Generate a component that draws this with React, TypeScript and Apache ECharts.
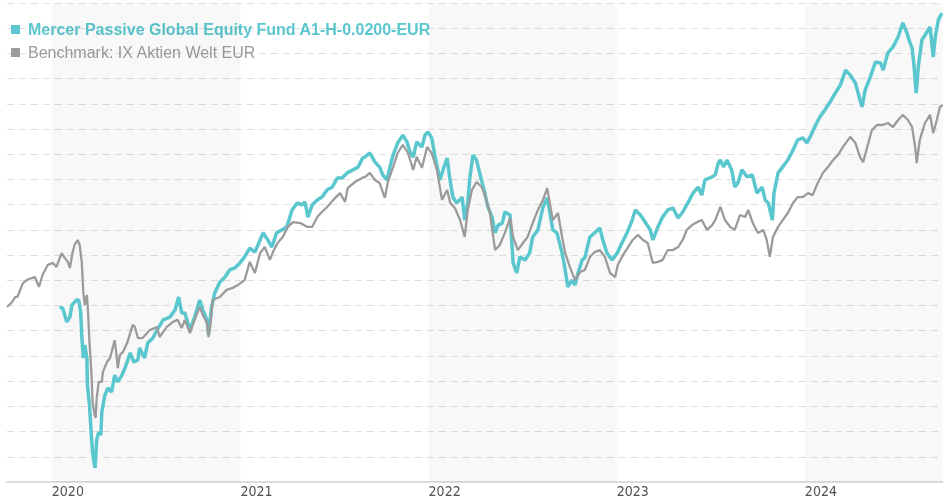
import React, { useEffect, useRef } from "react";
import * as echarts from "echarts";

const fundName = "Mercer Passive Global Equity Fund A1-H-0.0200-EUR";
const benchName = "Benchmark: IX Aktien Welt EUR";

const yearLabels = ["2020", "2021", "2022", "2023", "2024"];
const bandYears = [["2020-01-01", "2021-01-01"], ["2022-01-01", "2023-01-01"], ["2024-01-01", "2024-09-25"]];

const benchDates = [
  "2019-10-06","2019-10-16","2019-10-22","2019-10-26","2019-11-06","2019-11-13","2019-11-23","2019-11-29","2019-12-07","2019-12-14","2019-12-24",
  "2020-01-03","2020-01-10","2020-01-20","2020-01-26","2020-02-01","2020-02-05","2020-02-10","2020-02-14","2020-02-20","2020-02-24","2020-02-28",
  "2020-03-02","2020-03-05","2020-03-09","2020-03-11","2020-03-14","2020-03-18","2020-03-20","2020-03-24","2020-03-26","2020-03-28",
  "2020-04-01","2020-04-07","2020-04-09","2020-04-17","2020-04-23","2020-04-28","2020-05-02","2020-05-06","2020-05-08","2020-05-12","2020-05-18","2020-05-26",
  "2020-06-06","2020-06-10","2020-06-16","2020-06-25","2020-07-09","2020-07-23","2020-07-28","2020-08-11","2020-08-23","2020-09-01","2020-09-09","2020-09-15","2020-09-25",
  "2020-10-04","2020-10-14","2020-10-20","2020-10-28","2020-10-31","2020-11-04","2020-11-08","2020-11-22","2020-12-05","2020-12-17","2020-12-27",
  "2021-01-09","2021-01-19","2021-01-29","2021-02-08","2021-02-17","2021-02-27","2021-03-05","2021-03-14","2021-03-24","2021-04-03","2021-04-13","2021-04-27",
  "2021-05-10","2021-05-20","2021-05-30","2021-06-08","2021-06-18","2021-06-30","2021-07-13","2021-07-23","2021-07-28","2021-08-11","2021-08-25","2021-08-31",
  "2021-09-09","2021-09-19","2021-09-28","2021-10-08","2021-10-14","2021-10-24","2021-11-02","2021-11-12","2021-11-22","2021-12-02","2021-12-09","2021-12-19","2021-12-29",
  "2022-01-07","2022-01-17","2022-01-27","2022-02-06","2022-02-12","2022-02-21","2022-03-03","2022-03-12","2022-03-18","2022-03-26","2022-04-04","2022-04-14","2022-04-20","2022-04-30",
  "2022-05-10","2022-05-19","2022-05-29","2022-06-08","2022-06-14","2022-06-23","2022-07-03","2022-07-12","2022-07-22","2022-08-01","2022-08-11","2022-08-19","2022-08-24","2022-08-30",
  "2022-09-09","2022-09-17","2022-09-23","2022-10-02","2022-10-12","2022-10-22","2022-10-31","2022-11-10","2022-11-19","2022-11-29","2022-12-09","2022-12-19","2022-12-29",
  "2023-01-03","2023-01-13","2023-01-23","2023-02-01","2023-02-11","2023-02-21","2023-03-02","2023-03-12","2023-03-22","2023-03-31","2023-04-10","2023-04-20","2023-04-30",
  "2023-05-09","2023-05-17","2023-05-27","2023-06-06","2023-06-15","2023-06-25","2023-07-05","2023-07-11","2023-07-21","2023-07-30","2023-08-09","2023-08-18","2023-08-28",
  "2023-09-07","2023-09-13","2023-09-22","2023-10-02","2023-10-12","2023-10-19","2023-10-25","2023-10-31","2023-11-10","2023-11-19","2023-11-29","2023-12-09","2023-12-18","2023-12-28",
  "2024-01-07","2024-01-16","2024-01-26","2024-02-05","2024-02-15","2024-02-25","2024-03-05","2024-03-15","2024-03-29","2024-04-08","2024-04-17","2024-04-23","2024-05-01",
  "2024-05-10","2024-05-20","2024-05-31","2024-06-10","2024-06-20","2024-06-30","2024-07-09","2024-07-19","2024-07-27","2024-08-02","2024-08-05","2024-08-11","2024-08-21","2024-08-31",
  "2024-09-06","2024-09-13","2024-09-19","2024-09-25"
];
const benchValues = [
  109.4,111.4,113.4,113.4,118.9,120.1,120.9,121.3,117.4,122.1,126.1,
  126.9,125.3,130.8,128.9,127.3,124.9,130.8,134.0,136.0,134.0,127.3,
  115.4,110.2,114.2,108.2,95.5,82.4,71.7,66.6,65.4,73.3,
  79.7,79.7,83.6,87.6,89.2,93.2,96.3,89.2,85.2,90.4,91.6,95.1,
  102.3,101.5,97.1,97.1,100.3,101.5,97.5,101.5,103.5,104.3,101.1,104.3,99.1,
  104.3,109.4,106.2,103.1,97.5,103.1,112.2,113.4,116.2,117.0,118.1,
  120.1,127.3,122.9,130.8,133.2,128.1,131.2,134.8,137.2,141.2,143.1,142.7,
  141.2,141.2,145.1,147.1,149.1,151.9,154.6,151.1,156.6,159.0,160.6,161.0,
  162.6,159.8,158.6,152.7,159.0,164.9,170.5,173.7,170.5,163.8,169.0,164.6,172.9,
  170.5,163.8,151.9,155.8,150.7,148.7,143.9,137.2,147.9,155.8,159.0,157.0,153.8,146.7,
  132.0,134.0,138.8,144.7,137.2,132.0,134.8,137.2,142.7,147.9,151.9,156.6,150.7,143.9,
  146.7,137.2,130.8,125.3,120.1,123.3,124.1,129.3,131.2,132.0,129.3,122.9,121.3,
  126.1,130.0,133.2,136.0,138.0,136.0,134.8,126.9,127.3,128.1,132.0,132.0,133.2,
  136.0,140.0,141.9,143.1,143.9,140.0,141.9,143.9,149.1,143.9,141.2,140.0,145.9,
  145.1,147.9,142.7,138.8,140.0,136.0,129.3,137.2,141.2,143.9,146.7,150.7,153.0,153.0,
  154.6,153.8,158.6,162.6,165.0,167.7,169.7,172.9,176.9,174.5,168.9,166.9,172.9,
  179.6,181.6,181.6,182.4,180.8,183.6,185.6,183.6,180.8,172.9,166.5,175.7,182.4,185.6,
  178.4,183.6,188.8,189.5
];

const fundDates = [
  "2020-01-16","2020-01-22","2020-01-30","2020-02-05","2020-02-09","2020-02-18","2020-02-22","2020-02-26","2020-02-28",
  "2020-03-02","2020-03-05","2020-03-09","2020-03-10","2020-03-14","2020-03-18","2020-03-20","2020-03-22","2020-03-25","2020-03-28",
  "2020-04-01","2020-04-05","2020-04-07","2020-04-13","2020-04-19","2020-04-26","2020-05-02","2020-05-08","2020-05-16","2020-05-22",
  "2020-06-01","2020-06-08","2020-06-16","2020-06-19","2020-06-29","2020-07-05","2020-07-15","2020-07-23","2020-08-04","2020-08-17","2020-08-27",
  "2020-09-03","2020-09-09","2020-09-15","2020-09-25","2020-10-04","2020-10-14","2020-10-20","2020-10-28","2020-10-31","2020-11-06","2020-11-12","2020-11-22",
  "2020-12-02","2020-12-11","2020-12-21","2020-12-31",
  "2021-01-09","2021-01-19","2021-01-29","2021-02-08","2021-02-14","2021-02-23","2021-03-03","2021-03-12","2021-03-22","2021-04-01","2021-04-11","2021-04-21","2021-04-30",
  "2021-05-06","2021-05-12","2021-05-20","2021-05-30","2021-06-08","2021-06-18","2021-06-28","2021-07-08","2021-07-17","2021-07-27","2021-08-07","2021-08-17","2021-08-26","2021-08-30",
  "2021-09-09","2021-09-19","2021-09-28","2021-10-04","2021-10-12","2021-10-18","2021-10-24","2021-11-02","2021-11-12","2021-11-20","2021-11-26","2021-12-02","2021-12-09","2021-12-19","2021-12-25","2021-12-31",
  "2022-01-07","2022-01-13","2022-01-23","2022-01-29","2022-02-06","2022-02-11","2022-02-17","2022-02-25","2022-03-07","2022-03-12","2022-03-18","2022-03-22","2022-03-28",
  "2022-04-04","2022-04-10","2022-04-20","2022-04-26","2022-05-04","2022-05-10","2022-05-16","2022-05-24","2022-05-29","2022-06-08","2022-06-14","2022-06-21","2022-06-27",
  "2022-07-07","2022-07-16","2022-07-22","2022-08-01","2022-08-11","2022-08-19","2022-08-24","2022-08-30","2022-09-07","2022-09-17","2022-09-22","2022-09-28",
  "2022-10-06","2022-10-12","2022-10-18","2022-10-26","2022-10-31","2022-11-10","2022-11-19","2022-11-29","2022-12-05","2022-12-13","2022-12-23",
  "2023-01-02","2023-01-11","2023-01-21","2023-01-31","2023-02-06","2023-02-16","2023-02-25","2023-03-07","2023-03-12","2023-03-22","2023-03-31",
  "2023-04-10","2023-04-20","2023-04-30","2023-05-09","2023-05-19","2023-05-29","2023-06-08","2023-06-15","2023-06-21","2023-07-01","2023-07-11","2023-07-17","2023-07-21","2023-07-27",
  "2023-08-03","2023-08-12","2023-08-18","2023-08-24","2023-09-01","2023-09-11","2023-09-21","2023-09-30","2023-10-10","2023-10-16","2023-10-22","2023-10-30",
  "2023-11-02","2023-11-10","2023-11-19","2023-11-29","2023-12-09","2023-12-18","2023-12-28",
  "2024-01-05","2024-01-13","2024-01-20","2024-01-30","2024-02-09","2024-02-19","2024-02-29","2024-03-10","2024-03-20","2024-03-29","2024-04-08","2024-04-17","2024-04-21","2024-04-27",
  "2024-05-07","2024-05-17","2024-05-27","2024-06-01","2024-06-10","2024-06-20","2024-06-30","2024-07-09","2024-07-17","2024-07-21","2024-07-27","2024-07-31",
  "2024-08-04","2024-08-08","2024-08-15","2024-08-25","2024-08-31","2024-09-06","2024-09-10","2024-09-16","2024-09-23"
];
const fundValues = [
  109.4,109.0,103.5,105.4,110.2,112.2,112.2,107.4,98.3,
  89.2,94.3,89.2,78.5,70.5,57.5,51.9,48.7,45.6,56.7,
  59.8,58.6,67.8,74.5,77.3,75.7,82.4,79.7,82.4,85.2,
  91.2,87.6,88.4,93.2,89.2,95.1,97.1,100.3,104.3,105.4,108.2,
  113.4,107.0,107.0,100.3,105.4,112.2,108.2,104.3,98.3,109.4,115.0,119.3,
  121.3,124.1,124.9,126.9,
  129.3,132.8,131.2,136.0,138.8,136.0,133.2,138.8,140.0,141.2,147.9,150.7,149.9,
  151.1,145.1,149.9,151.9,153.0,155.8,157.0,160.6,160.6,162.6,163.8,164.9,168.5,168.9,
  170.5,166.9,164.9,161.8,159.8,164.9,169.7,174.5,177.6,174.9,170.9,168.9,174.9,172.9,177.6,178.8,
  176.5,169.7,159.8,163.8,168.5,160.6,153.0,150.7,153.0,143.9,150.7,160.6,169.7,
  167.7,162.6,154.6,149.1,145.1,138.8,141.9,142.7,147.1,145.9,126.9,122.9,129.3,
  128.1,130.8,137.2,140.0,149.1,152.7,147.1,140.0,138.8,130.8,125.3,117.4,
  120.1,118.1,122.9,128.1,128.9,137.2,138.8,140.8,136.0,130.8,128.1,
  130.8,134.8,138.8,143.9,147.9,145.9,143.1,140.0,136.0,141.2,145.1,
  147.9,148.7,144.7,147.1,150.7,154.6,157.0,153.8,159.8,160.6,161.8,166.5,167.7,165.0,
  167.7,163.8,157.0,158.6,163.8,161.0,161.8,154.6,157.0,151.9,150.7,143.9,
  154.6,162.6,165.0,167.7,171.7,175.7,176.5,
  174.5,177.6,180.8,184.8,187.6,190.7,194.3,197.5,203.4,201.4,198.3,191.5,188.8,195.5,
  200.7,206.6,206.2,203.4,210.2,212.6,216.5,222.1,218.1,215.3,212.2,204.6,
  194.3,204.6,215.3,218.5,220.5,208.6,216.5,223.3,226.0
];

const TEAL = "#5ac6ce";
const GREY = "#9b9b9b";

const ts = (d: string) => Date.parse(d + "T00:00:00Z");

export default function App() {
  const ref = useRef<HTMLDivElement>(null);
  useEffect(() => {
    document.body.style.margin = "0";
    if (!ref.current) return;
    const chart = echarts.init(ref.current, null, { renderer: "svg" });
    const fundData = fundDates.map((d, i) => [ts(d), fundValues[i]]);
    const benchData = benchDates.map((d, i) => [ts(d), benchValues[i]]);
    chart.setOption({
      animation: false,
      grid: { left: 7, right: 0, top: 3, bottom: 18, containLabel: false },
      legend: {
        orient: "vertical",
        left: 11,
        top: 21,
        padding: 0,
        itemGap: 6,
        itemWidth: 9,
        itemHeight: 9,
        icon: "rect",
        z: 0,
        selectedMode: false,
        textStyle: { fontFamily: "Liberation Sans, Arial, sans-serif", fontSize: 16, lineHeight: 17, padding: [0, 0, 0, 3] },
        data: [
          { name: fundName, textStyle: { color: TEAL, fontWeight: "bold" } },
          { name: benchName, textStyle: { color: GREY, fontWeight: "normal" } },
        ],
      },
      xAxis: {
        type: "value",
        min: ts(benchDates[0]),
        max: ts(benchDates[benchDates.length - 1]),
        axisLine: { show: true, onZero: false, lineStyle: { color: "#dcdcdc", width: 2 } },
        axisTick: { show: false },
        splitLine: { show: false },
        axisLabel: {
          customValues: yearLabels.map((y) => ts(y + "-01-01")),
          formatter: (v: number) => String(new Date(v).getUTCFullYear()),
          align: "left",
          margin: 2,
          color: "#505050",
          fontSize: 14,
          fontFamily: "DejaVu Sans Condensed, DejaVu Sans, sans-serif",
        },
      },
      yAxis: {
        type: "value",
        min: 40,
        max: 230,
        interval: 10,
        axisLine: { show: false },
        axisTick: { show: false },
        axisLabel: { show: false },
        splitLine: { show: true, lineStyle: { color: "#e0e0e0", width: 1, type: [7, 5] } },
      },
      series: [
        {
          name: fundName,
          type: "line",
          data: fundData,
          showSymbol: false,
          symbol: "none",
          lineStyle: { color: TEAL, width: 3.5 },
          itemStyle: { color: TEAL },
          markArea: {
            silent: true,
            itemStyle: { color: "rgba(0,0,0,0.028)" },
            data: bandYears.map(([a, b]) => [{ xAxis: ts(a) }, { xAxis: ts(b) }]),
          },
        },
        {
          name: benchName,
          type: "line",
          data: benchData,
          showSymbol: false,
          symbol: "none",
          lineStyle: { color: GREY, width: 2.3 },
          itemStyle: { color: GREY },
        },
      ],
    });
    return () => chart.dispose();
  }, []);
  return <div ref={ref} style={{ position: "fixed", left: 0, top: 0, width: 943, height: 500 }} />;
}
